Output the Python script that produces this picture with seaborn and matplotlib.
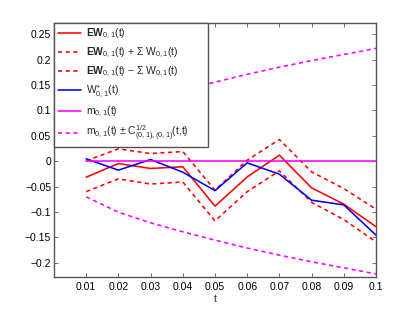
import numpy as np
import pandas as pd
import matplotlib
matplotlib.use("Agg")
import matplotlib.pyplot as plt
import seaborn as sns

t = [0.01, 0.02, 0.03, 0.04, 0.05, 0.06, 0.07, 0.08, 0.09, 0.1]
ew = [-0.0315, -0.0046, -0.0144, -0.011, -0.0886, -0.031, 0.0118, -0.0525, -0.0846, -0.129]
ew_upper = [0.0007, 0.0243, 0.015, 0.019, -0.057, 0.002, 0.0427, -0.021, -0.054, -0.0945]
ew_lower = [-0.060, -0.0348, -0.045, -0.041, -0.1175, -0.060, -0.019, -0.081, -0.115, -0.159]
w_plus = [0.0046, -0.0177, 0.0033, -0.0217, -0.058, -0.0033, -0.0256, -0.0768, -0.086, -0.1457]
m = [0, 0, 0, 0, 0, 0, 0, 0, 0, 0]
c_sqrt = [0.0702, 0.1004, 0.1214, 0.139, 0.1555, 0.171, 0.185, 0.198, 0.21, 0.222]
xtick_labels = ["0.01", "0.02", "0.03", "0.04", "0.05", "0.06", "0.07", "0.08", "0.09", "0.1"]
ytick_vals = [-0.2, -0.15, -0.1, -0.05, 0, 0.05, 0.1, 0.15, 0.2, 0.25]
ytick_labels = ["\u22120.2", "\u22120.15", "\u22120.1", "\u22120.05", "0", "0.05", "0.1", "0.15", "0.2", "0.25"]

sns.set_style("ticks")
plt.rcParams["font.family"] = ["Liberation Sans", "DejaVu Sans"]
plt.rcParams["mathtext.fontset"] = "custom"
plt.rcParams["mathtext.rm"] = "Liberation Sans"
plt.rcParams["mathtext.bf"] = "Liberation Sans:bold"
plt.rcParams["mathtext.default"] = "regular"

fig = plt.figure(figsize=(4.15, 3.12), dpi=100)
W, H = 415, 312
ax_l, ax_r, ax_t, ax_b = 54, 376, 23, 277
ax = fig.add_axes([ax_l / W, 1 - ax_b / H, (ax_r - ax_l) / W, (ax_b - ax_t) / H])

red = "#ff0000"
blue = "#0000ff"
mag = "#ff00ff"
lw = 1.15
dash = (0, (2.6, 2.2))

m_up = [a + b for a, b in zip(m, c_sqrt)]
m_lo = [a - b for a, b in zip(m, c_sqrt)]

sns.lineplot(x=t, y=ew, ax=ax, color=red, lw=lw, label=r"$\mathbf{EW}_{0,1}$(t)")
sns.lineplot(x=t, y=ew_upper, ax=ax, color=red, lw=lw, linestyle=dash,
             label=r"$\mathbf{EW}_{0,1}$(t) + $\Sigma$ W$_{0,1}$(t)")
sns.lineplot(x=t, y=ew_lower, ax=ax, color=red, lw=lw, linestyle=dash,
             label=r"$\mathbf{EW}_{0,1}$(t) $-$ $\Sigma$ W$_{0,1}$(t)")
sns.lineplot(x=t, y=w_plus, ax=ax, color=blue, lw=lw, label=r"W$^{+}_{0,1}$(t)")
sns.lineplot(x=t, y=m, ax=ax, color=mag, lw=lw, label=r"m$_{0,1}$(t)")
sns.lineplot(x=t, y=m_up, ax=ax, color=mag, lw=lw, linestyle=dash,
             label=r"m$_{0,1}$(t) $\pm$ C$^{1/2}_{(0,1),(0,1)}$(t,t)")
sns.lineplot(x=t, y=m_lo, ax=ax, color=mag, lw=lw, linestyle=dash, label="_nolegend_")

ax.set_xlim(0, 0.1)
ax.set_ylim(-0.228, 0.272)
ax.set_xticks(t)
ax.set_xticklabels(xtick_labels)
ax.set_yticks(ytick_vals)
ax.set_yticklabels(ytick_labels)
ax.set_xlabel("t", fontsize=7.5, labelpad=1.5)
ax.set_ylabel("")

spine_c = "#555555"
for s in ax.spines.values():
    s.set_visible(True)
    s.set_color(spine_c)
    s.set_linewidth(1.0)
ax.tick_params(direction="in", length=3, width=0.6, colors=spine_c, labelcolor="#000000",
               labelsize=7.5, top=True, right=True)
ax.tick_params(axis="x", pad=3.5)
ax.tick_params(axis="y", pad=2)

# legend box spans from axes left to x=208 px
leg_w = (208 - ax_l) / (ax_r - ax_l)
leg = ax.legend(loc="upper left", bbox_to_anchor=(0, 0, leg_w, 1), mode="expand",
                borderaxespad=0, fontsize=7.5, frameon=True, fancybox=False,
                handlelength=2.2, handletextpad=0.55, labelspacing=0.45, borderpad=0.35)
leg.get_frame().set_edgecolor(spine_c)
leg.get_frame().set_linewidth(1.0)
leg.get_frame().set_alpha(1)

fig.savefig("out.png", dpi=100)
